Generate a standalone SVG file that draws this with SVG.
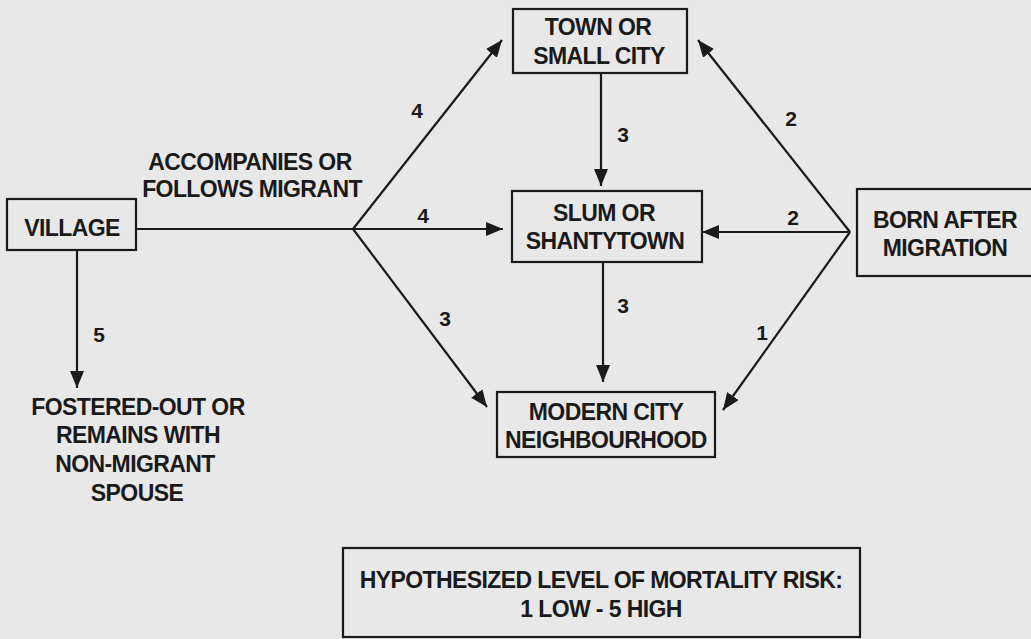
<svg xmlns="http://www.w3.org/2000/svg" width="1031" height="639" viewBox="0 0 1031 639">
<style>
  .box { fill: none; stroke: #1a1a1a; stroke-width: 2.2; }
  .t { font-family: "Liberation Sans", Arial, sans-serif; font-weight: bold; font-size: 23px; letter-spacing: -0.6px; fill: #1a1a1a; text-anchor: middle; }
  .n { font-family: "Liberation Sans", Arial, sans-serif; font-weight: bold; font-size: 21px; fill: #1a1a1a; text-anchor: middle; }
  .ln { fill: none; stroke: #1a1a1a; stroke-width: 2.2; }
  .ar { marker-end: url(#ah); }
</style>
<defs>
  <marker id="ah" markerUnits="userSpaceOnUse" markerWidth="18" markerHeight="15" refX="17" refY="7" orient="auto">
    <path d="M0,0 L17,7 L0,14 z" fill="#1a1a1a"/>
  </marker>
</defs>
<rect width="1031" height="639" fill="#e8e8e8"/>

<g id="village">
  <rect class="box" x="7" y="199" width="129" height="51"/>
  <text class="t" x="72" y="236">VILLAGE</text>
</g>
<g id="town">
  <rect class="box" x="513" y="9" width="174" height="64"/>
  <text class="t" x="598" y="35">TOWN OR</text>
  <text class="t" x="599" y="64">SMALL CITY</text>
</g>
<g id="slum">
  <rect class="box" x="512" y="191" width="190" height="71"/>
  <text class="t" x="604" y="221">SLUM OR</text>
  <text class="t" x="605" y="249">SHANTYTOWN</text>
</g>
<g id="born">
  <rect class="box" x="857" y="189" width="180" height="87"/>
  <text class="t" x="945" y="228">BORN AFTER</text>
  <text class="t" x="945" y="256">MIGRATION</text>
</g>
<g id="modern">
  <rect class="box" x="497" y="392" width="218" height="65"/>
  <text class="t" x="606" y="420">MODERN CITY</text>
  <text class="t" x="606" y="448">NEIGHBOURHOOD</text>
</g>
<g id="fostered">
  <text class="t" x="138" y="415">FOSTERED-OUT OR</text>
  <text class="t" x="138" y="443">REMAINS WITH</text>
  <text class="t" x="135" y="472">NON-MIGRANT</text>
  <text class="t" x="137" y="501">SPOUSE</text>
</g>
<g id="legend">
  <rect class="box" x="343" y="548" width="517" height="89"/>
  <text class="t" x="601" y="588">HYPOTHESIZED LEVEL OF MORTALITY RISK:</text>
  <text class="t" x="601" y="617">1 LOW - 5 HIGH</text>
</g>
<g id="accompanies-label">
  <text class="t" x="250" y="170">ACCOMPANIES OR</text>
  <text class="t" x="252" y="197">FOLLOWS MIGRANT</text>
</g>

<g id="connectors">
  <line class="ln" x1="136" y1="229" x2="353" y2="229"/>
  <line class="ln ar" x1="353" y1="229" x2="502" y2="40"/>
  <line class="ln ar" x1="353" y1="229" x2="503" y2="229"/>
  <line class="ln ar" x1="353" y1="229" x2="487" y2="407"/>
  <line class="ln ar" x1="77" y1="250" x2="77" y2="388"/>
  <line class="ln ar" x1="601" y1="73" x2="601" y2="186"/>
  <line class="ln ar" x1="603" y1="262" x2="603" y2="382"/>
  <line class="ln ar" x1="850" y1="232" x2="698" y2="40"/>
  <line class="ln ar" x1="850" y1="232" x2="702" y2="232"/>
  <line class="ln ar" x1="850" y1="232" x2="723" y2="410"/>
  <text class="n" x="417" y="118">4</text>
  <text class="n" x="423" y="223">4</text>
  <text class="n" x="445" y="326">3</text>
  <text class="n" x="99" y="342">5</text>
  <text class="n" x="623" y="142">3</text>
  <text class="n" x="623" y="313">3</text>
  <text class="n" x="791" y="126">2</text>
  <text class="n" x="793" y="225">2</text>
  <text class="n" x="762" y="340">1</text>
</g>
</svg>
